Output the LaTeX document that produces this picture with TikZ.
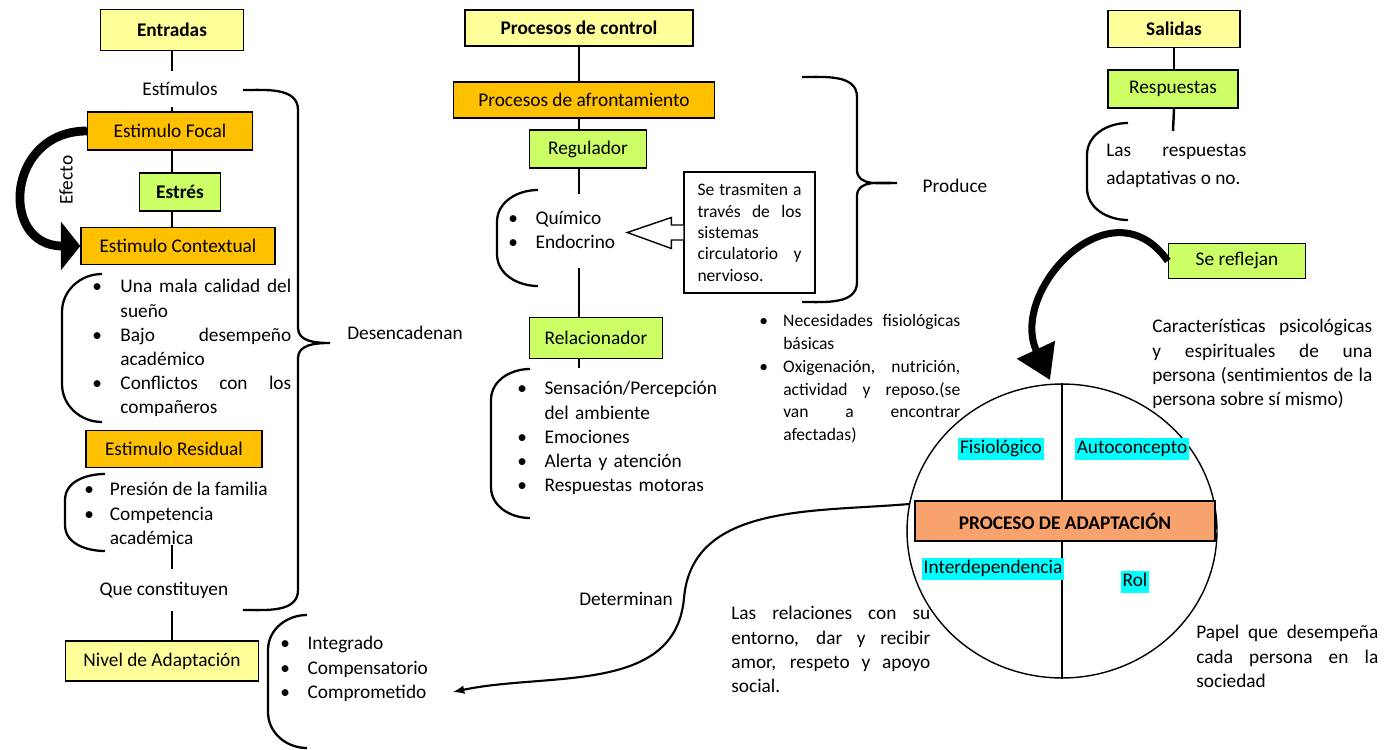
\documentclass[tikz,border=0pt]{standalone}
\usepackage{fontspec}
\setmainfont{Carlito}
\usetikzlibrary{arrows,arrows.meta,shapes.geometric}
\definecolor{paleyellow}{HTML}{FFFF99}
\definecolor{amber}{HTML}{FFC000}
\definecolor{lime}{HTML}{CCFF66}
\definecolor{salmon}{HTML}{F8A36D}
\definecolor{hicyan}{HTML}{00FFFF}
\setlength{\parindent}{0pt}
\hyphenpenalty=10000
\exhyphenpenalty=10000
\tolerance=10000
\newcommand{\itm}[2][15.5pt]{\noindent\hangindent=#1\hangafter=1\makebox[#1][l]{\textbullet}#2\par}
\tikzstyle{yellowbox}=[draw,line width=0.8pt,fill=paleyellow,inner sep=2pt]
\tikzstyle{orangebox}=[draw,line width=0.8pt,fill=amber,inner sep=2pt,minimum height=0.75cm]
\tikzstyle{greenbox}=[draw,line width=0.8pt,fill=lime,inner sep=2pt]
\tikzstyle{link}=[line width=1.4pt]
\tikzstyle{bracket}=[line width=1.3pt]
\tikzstyle{itemlist}=[inner sep=0pt,anchor=north west,align=justify]
\tikzstyle{hilite}=[fill=hicyan,inner xsep=1pt,inner ysep=0pt,text height=9pt,text depth=3.5pt]
\tikzstyle{fatarrow}=[line width=5pt,-{Triangle[length=11pt,width=27pt]}]
\tikzstyle{reflarrow}=[line width=4pt,-{Triangle[length=19pt,width=23pt]}]
\tikzstyle{orientedlink}=[->,>=latex,line width=1.2pt]

\begin{document}
\fontsize{11}{13.8}\selectfont
\begin{tikzpicture}[x=0.02cm,y=-0.02cm]
\useasboundingbox (0,0) rectangle (1387,750);

% entradas
\node[yellowbox,font=\bfseries,minimum width=2.86cm,minimum height=0.82cm] (Entradas) at (172,30) {Entradas};
\node[inner ysep=6pt] (Estimulos) at (180,89) {Estímulos};
\node[orangebox,minimum width=3.3cm,minimum height=0.76cm] (Focal) at (170,131) {Estimulo Focal};
\node[greenbox,font=\bfseries,minimum width=1.62cm,minimum height=0.76cm] (Estres) at (180,192) {Estrés};
\node[orangebox,minimum width=3.88cm,minimum height=0.74cm] (Contextual) at (178,246) {Estimulo Contextual};
\node[itemlist,text width=3.98cm] (LContextual) at (92,279) {\itm[16pt]{Una mala calidad del sueño}\itm[16pt]{Bajo desempeño académico}\itm[16pt]{Conflictos con los compañeros}};
\node[orangebox,minimum width=3.52cm,minimum height=0.74cm] (Residual) at (174,449) {Estimulo Residual};
\node[itemlist,text width=3.9cm] (LResidual) at (84,482) {\itm[14.5pt]{Presión de la familia}\itm[14.5pt]{Competencia académica}};
\node[inner ysep=7pt] (Constituyen) at (164,590) {Que constituyen};
\node[yellowbox,minimum width=3.86cm,minimum height=0.8cm] (Nivel) at (162,661) {Nivel de Adaptación};
\node[itemlist,text width=3.2cm,align=left] (LNivel) at (280,636) {\itm{Integrado}\itm{Compensatorio}\itm{Comprometido}};
\node (Desencadenan) at (405,333) {Desencadenan};
\node[rotate=90] (Efecto) at (66,180) {Efecto};

\draw[link] (Entradas.south) -- (Entradas.south |- Estimulos.north);
\draw[link] (Entradas |- Estimulos.south) -- (Entradas |- Focal.north);
\draw[link] (Entradas |- Focal.south) -- (Entradas |- Estres.north);
\draw[link] (Entradas |- Estres.south) -- (Entradas |- Contextual.north);
\draw[link] (Entradas |- LResidual.south) -- (Entradas |- Constituyen.north);
\draw[link] (Entradas |- Constituyen.south) -- (Entradas |- Nivel.north);
\draw[fatarrow] (Focal.west) to[out=180,in=180,looseness=1.8] (Contextual.west);

\draw[bracket] (102,274) to[out=180,in=90] (62,312) -- (62,384) to[out=-90,in=180] (102,422);
\draw[bracket] (105,474) to[out=180,in=90] (65,500) -- (65,525) to[out=-90,in=180] (105,551);
\draw[bracket] (307,615) to[out=180,in=90] (268,650) -- (268,712) to[out=-90,in=180] (307,748);
\draw[bracket] (243,90) to[out=0,in=90] (298,110) -- (298,328) to[out=-90,in=180] (330,343) to[out=180,in=90] (298,358) -- (298,590) to[out=-90,in=0] (243,610);

% procesos de control
\node[yellowbox,font=\bfseries,minimum width=4.56cm,minimum height=0.72cm] (Control) at (579,28) {Procesos de control};
\node[orangebox,minimum width=5.22cm,minimum height=0.72cm] (Afront) at (584,100) {Procesos de afrontamiento};
\node[greenbox,minimum width=2.34cm,minimum height=0.76cm] (Regulador) at (588,149) {Regulador};
\node[itemlist,text width=2.4cm,align=left] (LQuim) at (508,211) {\itm{Químico}\itm{Endocrino}};
\node[draw,line width=0.8pt,fill=white,minimum width=2.62cm,minimum height=2.42cm,text width=2.08cm,align=justify,font=\fontsize{10}{12.2}\selectfont] (Tras) at (749.5,232.5) {Se trasmiten a\linebreak través de los\linebreak sistemas\\circulatorio y\linebreak nervioso.};
\node[greenbox,minimum width=2.66cm,minimum height=0.82cm] (Relacionador) at (596,338) {Relacionador};
\node[itemlist,text width=4.27cm,align=left] (LRelac) at (517,381) {\itm{Sensación/Percepción del ambiente}\itm{Emociones}\itm{Alerta y atención}\itm{Respuestas motoras}};
\node (Produce) at (955,186) {Produce};
\node[itemlist,text width=4.02cm,font=\fontsize{10}{13}\selectfont] (LNeces) at (759,314) {\itm[13.6pt]{Necesidades fisiológicas básicas}\itm[13.6pt]{Oxigenación, nutrición, actividad y reposo.(se van a encontrar afectadas)}};

\coordinate (QuimTop) at (579,194);
\coordinate (QuimBot) at (579,268);
\coordinate (RelStub) at (579,368);
\draw[link] (Control.south) -- (Control.south |- Afront.north);
\draw[link] (Control |- Afront.south) -- (Control |- Regulador.north);
\draw[link] (Control |- Regulador.south) -- (QuimTop);
\draw[link] (QuimBot) -- (Control |- Relacionador.north);
\draw[link] (Control |- Relacionador.south) -- (RelStub);
\draw[line width=0.8pt,fill=white] (Tras.west) ++(0,-7.5) -- ++(-12,0) -- ++(0,-7.5) -- ++(-44,15) -- ++(44,16) -- ++(0,-8.5) -- ++(12,0);

\draw[bracket] (538,190) to[out=180,in=90] (497,222) -- (497,254) to[out=-90,in=180] (538,286);
\draw[bracket] (530,369) to[out=180,in=90] (491,400) -- (491,487) to[out=-90,in=180] (530,518);
\draw[bracket] (802,77) to[out=0,in=90] (857,97) -- (857,170) to[out=-90,in=180] (897,183) to[out=180,in=90] (857,196) -- (857,282) to[out=-90,in=0] (802,302);

% salidas
\node[yellowbox,font=\bfseries,minimum width=2.64cm,minimum height=0.74cm] (Salidas) at (1174,29) {Salidas};
\node[greenbox,minimum width=2.6cm,minimum height=0.76cm] (Respuestas) at (1173,89) {Respuestas};
\node[itemlist,text width=2.8cm,font=\fontsize{11}{15.9}\selectfont] (LResp) at (1106,144) {Las respuestas adaptativas o no.};
\node[greenbox,minimum width=2.74cm,minimum height=0.7cm] (Reflejan) at (1237,261) {Se reflejan};
\node[itemlist,text width=4.4cm] (Caract) at (1152,319) {Características psicológicas y espirituales de una persona (sentimientos de la persona sobre sí mismo)};

\coordinate (RespStub) at (1173,131);
\draw[link] (Salidas.south) -- (Salidas.south |- Respuestas.north);
\draw[link] (Salidas |- Respuestas.south) -- (RespStub);
\draw[bracket] (1128,123) to[out=180,in=90] (1087,155) -- (1087,188) to[out=-90,in=180] (1128,220);

% proceso de adaptacion
\node[draw,ellipse,line width=0.8pt,minimum width=6.2cm,minimum height=5.88cm] (Modos) at (1062,531) {};
\node[draw,line width=0.8pt,fill=salmon,font=\bfseries,minimum width=6cm,minimum height=0.8cm] (PA) at (1065,521) {PROCESO DE ADAPTACIÓN};
\draw[line width=1pt] (Modos.north) -- (Modos.north |- PA.north);
\draw[line width=1pt] (PA.south -| Modos.south) -- (Modos.south);
\node[hilite] (Fisio) at (1001,449) {Fisiológico};
\node[hilite] (Autoc) at (1132,449) {Autoconcepto};
\node[hilite] (Interd) at (993,569) {Interdependencia};
\node[hilite] (Rol) at (1135,582) {Rol};
\node[itemlist,text width=3.98cm] (Relaciones) at (731,606) {Las relaciones con su entorno, dar y recibir amor, respeto y apoyo social.};
\node[itemlist,text width=3.64cm] (Papel) at (1196,625) {Papel que desempeña cada persona en la sociedad};
\node (Determinan) at (626,599) {Determinan};

\coordinate (ReflTip) at (1050,380);
\coordinate (DetMid) at (684,598);
\coordinate (DetEnd) at (453,692);
\draw[reflarrow] (Reflejan.west) to[out=125,in=115,looseness=1.5] (ReflTip);
\draw[orientedlink] (Modos.170) to[out=185,in=85] (DetMid) to[out=-95,in=12] (DetEnd);

\end{tikzpicture}
\end{document}
